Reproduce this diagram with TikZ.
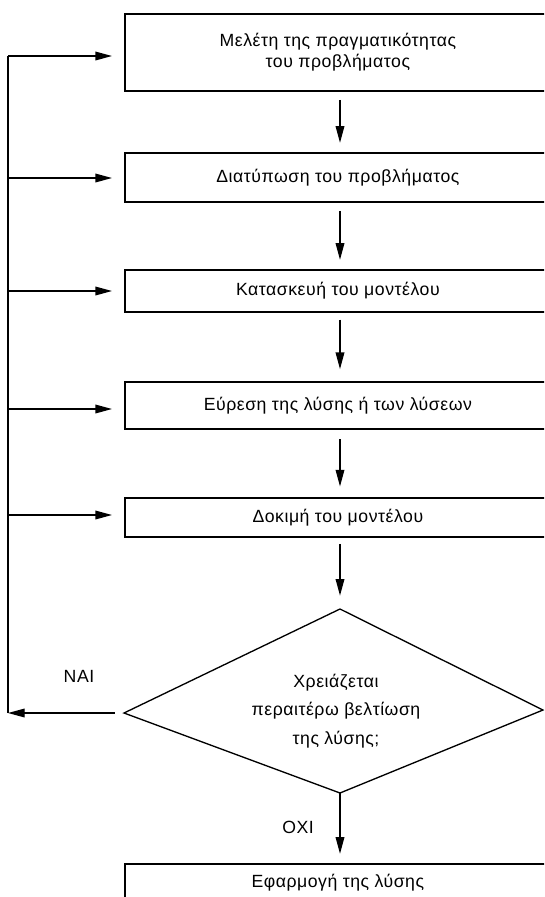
\documentclass[tikz,border=0pt]{standalone}
\usepackage{fontspec}
\setmainfont[LetterSpace=3]{Liberation Sans}
\usetikzlibrary{arrows.meta,calc}
\begin{document}
\begin{tikzpicture}[x=0.75pt,y=-0.75pt,
  every node/.style={font=\fontsize{13.25}{15.75}\selectfont, inner sep=0pt},
  stepbox/.style={draw, line width=1.3pt, anchor=west, minimum width=319.5pt, align=center},
  conn/.style={line width=1pt},
  arr/.style={conn, -{Triangle[length=12.5pt,width=6.5pt]}},
  lbl/.style={font=\fontsize{13.25}{15}\selectfont}
]
\useasboundingbox (0,0) rectangle (544,897);
\fill[white] (0,0) rectangle (544,897);
\clip (0,0) rectangle (544,897);

% boxes
\node[stepbox, minimum height=57.75pt] (b1) at (124,52.5) {Μελέτη της πραγματικότητας\\του προβλήματος};
\node[stepbox, minimum height=36.75pt] (b2) at (124,177.5) {Διατύπωση του προβλήματος};
\node[stepbox, minimum height=31.5pt] (b3) at (124,291) {Κατασκευή του μοντέλου};
\node[stepbox, minimum height=35.25pt] (b4) at (124,405.5) {Εύρεση της λύσης ή των λύσεων};
\node[stepbox, minimum height=29.25pt] (b5) at (124,517.5) {Δοκιμή του μοντέλου};
\node[stepbox, minimum height=28.5pt] (b7) at (124,883) {Εφαρμογή της λύσης};

% diamond
\coordinate (dt) at (340,609);
\coordinate (dl) at (124,713);
\coordinate (dr) at (543,710);
\coordinate (db) at (340,793);
\draw[line width=1pt, line join=miter] (dt) -- (dr) -- (db) -- (dl) -- cycle;
\node[align=center, font=\fontsize{13.25}{21.4}\selectfont] (dtext) at (336,711) {Χρειάζεται\\περαιτέρω βελτίωση\\της λύσης;};

% vertical flow arrows
\coordinate (ax) at (340,0);
\draw[arr, shorten <=6pt, shorten >=7pt] (b1.south -| ax) -- (b2.north -| ax);
\draw[arr, shorten <=6pt, shorten >=7pt] (b2.south -| ax) -- (b3.north -| ax);
\draw[arr, shorten <=5pt, shorten >=9pt] (b3.south -| ax) -- (b4.north -| ax);
\draw[arr, shorten <=7pt, shorten >=8pt] (b4.south -| ax) -- (b5.north -| ax);
\draw[arr, shorten <=4.5pt, shorten >=10pt] (b5.south -| ax) -- (dt);
\draw[arr, shorten >=7pt] (db) -- (b7.north -| ax);

% feedback loop
\coordinate (L1) at (8,56);
\coordinate (L2) at (8,178);
\coordinate (L3) at (8,291);
\coordinate (L4) at (8,409);
\coordinate (L5) at (8,515);
\coordinate (LN) at (8,713);
\draw[arr, shorten <=7pt] (dl) -- (LN);
\draw[conn] (LN) -- (L1);
\draw[arr, shorten >=9pt] (L1) -- (L1 -| b1.west);
\draw[arr, shorten >=9pt] (L2) -- (L2 -| b2.west);
\draw[arr, shorten >=9pt] (L3) -- (L3 -| b3.west);
\draw[arr, shorten >=9pt] (L4) -- (L4 -| b4.west);
\draw[arr, shorten >=9pt] (L5) -- (L5 -| b5.west);

% labels
\node[lbl] (nai) at (79,676) {ΝΑΙ};
\node[lbl] (oxi) at (298,827) {ΟΧΙ};
\end{tikzpicture}
\end{document}
